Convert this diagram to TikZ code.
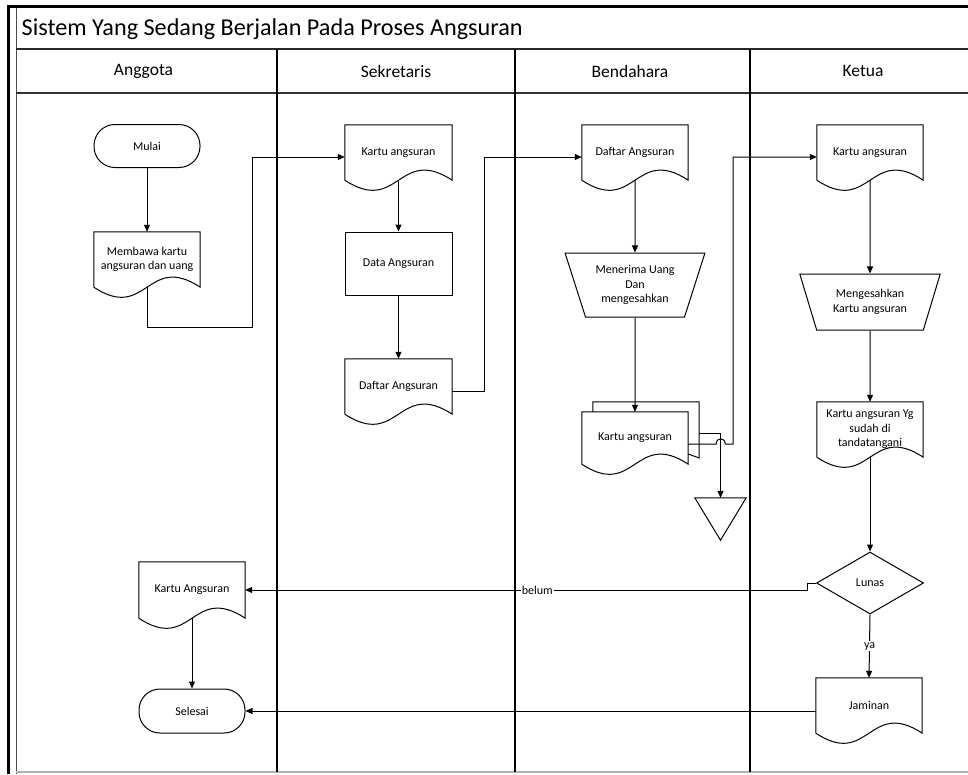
\documentclass[tikz,border=0pt]{standalone}
\usepackage{fontspec}
\setmainfont{Carlito}
\usetikzlibrary{shapes.geometric,arrows.meta,calc}

\newcommand{\nodefont}{\fontsize{12}{14.5}\selectfont}

\tikzset{
	lane/.style={line width=1.2pt},
	link/.style={line width=1pt},
	flow/.style={line width=1pt, -{Triangle[length=7pt,width=6pt]}},
	lanehead/.style={font=\fontsize{17.5}{20}\selectfont},
	terminal/.style={draw, line width=1pt, rounded corners=21pt, minimum width=106pt, minimum height=43pt, font=\nodefont},
	process/.style={draw, line width=1pt, minimum width=107pt, minimum height=63pt, font=\nodefont},
	doc/.style={minimum width=106pt, minimum height=55pt, inner sep=1pt, align=center, font=\nodefont},
	manual/.style={draw, line width=1pt, trapezium, trapezium left angle=112, trapezium right angle=112,
		trapezium stretches=true, minimum width=140pt, minimum height=64pt, inner sep=1pt, align=center, font=\nodefont},
	decision/.style={draw, line width=1pt, diamond, minimum width=107pt, minimum height=62pt, inner sep=0pt, font=\nodefont},
	store/.style={minimum width=51pt, minimum height=42pt, inner sep=0pt},
	flowlabel/.style={fill=white, inner sep=1pt, font=\nodefont}
}

\begin{document}
\begin{tikzpicture}[x=1pt, y=-1pt]
		\useasboundingbox (0,0) rectangle (968,774);
		
		% frame and swimlanes
		\draw[line width=2.6pt] (8.7,774) -- (8.7,6.2) -- (968,6.2);
		\draw[line width=0.8pt, black!70] (16,774) -- (16,8);
		\draw[line width=1.6pt, black!85] (16,49) -- (968,49);
		\draw[line width=1.4pt, black!80] (16,93) -- (968,93);
		\draw[line width=1.2pt, gray!60] (16,772) -- (968,772);
		\foreach \x in {277,515,750}
			\draw[lane] (\x,49) -- (\x,772);
		
		\node[anchor=west, inner sep=0pt, font=\fontsize{24.2}{28}\selectfont] (title) at (21.5,29) {Sistem Yang Sedang Berjalan Pada Proses Angsuran};
		\node[lanehead] (hAnggota) at (143.5,71) {Anggota};
		\node[lanehead] (hSekretaris) at (396,71) {Sekretaris};
		\node[lanehead] (hBendahara) at (630,71) {Bendahara};
		\node[lanehead] (hKetua) at (863,71) {Ketua};
		
		% Anggota
		\node[terminal] (mulai) at (147,146) {Mulai};
		\node[doc] (membawa) at (147,259.5) {Membawa kartu\\angsuran dan uang};
		\node[doc, minimum height=56pt] (kartuAng) at (192,590) {Kartu Angsuran};
		\node[terminal, minimum height=44pt] (selesai) at (192,711) {Selesai};
		
		% Sekretaris
		\node[doc, minimum width=107pt] (kartuSek) at (398.5,152.5) {Kartu angsuran};
		\node[process] (dataSek) at (398.5,263.5) {Data Angsuran};
		\node[doc, minimum width=107pt] (daftarSek) at (398.5,386.5) {Daftar Angsuran};
		
		% Bendahara
		\node[doc] (daftarBen) at (635,152.5) {Daftar Angsuran};
		\node[manual] (terimaBen) at (635,285) {Menerima Uang\\Dan\\mengesahkan};
		\node[doc, minimum height=52pt] (kartuBen) at (635,438) {Kartu angsuran};
		\node[store] (simpan) at (720.5,519) {};
		
		% Ketua
		\node[doc] (kartuKet) at (870,152.5) {Kartu angsuran};
		\node[manual, minimum width=141pt, minimum height=56pt, trapezium left angle=114, trapezium right angle=114] (sahKet) at (870,302) {Mengesahkan\\Kartu angsuran};
		\node[doc] (ttdKet) at (870,429.5) {Kartu angsuran Yg\\sudah di\\tandatangani};
		\node[decision] (lunas) at (870,583) {Lunas};
		\node[doc] (jaminan) at (869,705.5) {Jaminan};
		
		% document outlines
		\draw[link] ([xshift=11pt]kartuBen.north west) -- ([xshift=11pt,yshift=10pt]kartuBen.north west)
			-- ([xshift=11pt,yshift=10pt]kartuBen.north east) -- ([xshift=11pt,yshift=-20pt]kartuBen.east)
			-- ([yshift=-16pt]kartuBen.east);
		\foreach \d in {membawa,kartuAng,kartuSek,daftarSek,daftarBen,kartuBen,kartuKet,ttdKet,jaminan}
			\draw[link] (\d.south west) -- (\d.north west) -- (\d.north east) -- (\d.south east)
				.. controls ($(\d.south)+(0,35pt)$) and ($(\d.south)+(0,-35pt)$) .. (\d.south west);
		\draw[link] (simpan.north west) -- (simpan.north east) -- (simpan.south) -- cycle;
		
		% connectors
		\draw[flow] (mulai.south) -- (membawa.north);
		\draw[flow] (membawa.south) |- (252,327) |- ([yshift=-4.5pt]kartuSek.west);
		\draw[flow] (kartuSek.south) -- (dataSek.north);
		\draw[flow] (dataSek.south) -- (daftarSek.north);
		\draw[flow] ([yshift=-4.5pt]daftarSek.east) -| (484,157) -- ([yshift=-4.5pt]daftarBen.west);
		\draw[flow] (daftarBen.south) -- (terimaBen.north);
		\draw[flow] (terimaBen.south) -- (kartuBen.north);
		\coordinate (backE) at ([xshift=11pt,yshift=5pt]kartuBen.east);
		\draw[flow] (backE) -| (simpan.north);
		\draw[flow] ([yshift=-6pt]kartuBen.east) -- ++(28,0) .. controls +(0,-7) and +(0,-7) .. ++(9,0)
			-- ++(8,0) |- ([yshift=-4.5pt]kartuKet.west);
		\draw[flow] (kartuKet.south) -- (sahKet.north);
		\draw[flow] (sahKet.south) -- (ttdKet.north);
		\draw[flow] (ttdKet.south) -- (lunas.north);
		\draw[flow] (lunas.west) -- ++(-9,0) |- node[flowlabel, pos=0.74] {belum} (kartuAng.east);
		\draw[flow] (lunas.south) -- node[flowlabel] {ya} (jaminan.north);
		\draw[flow] ([yshift=-5.5pt]jaminan.west) -- (selesai.east);
		\draw[flow] (kartuAng.south) -- (selesai.north);
\end{tikzpicture}
\end{document}
